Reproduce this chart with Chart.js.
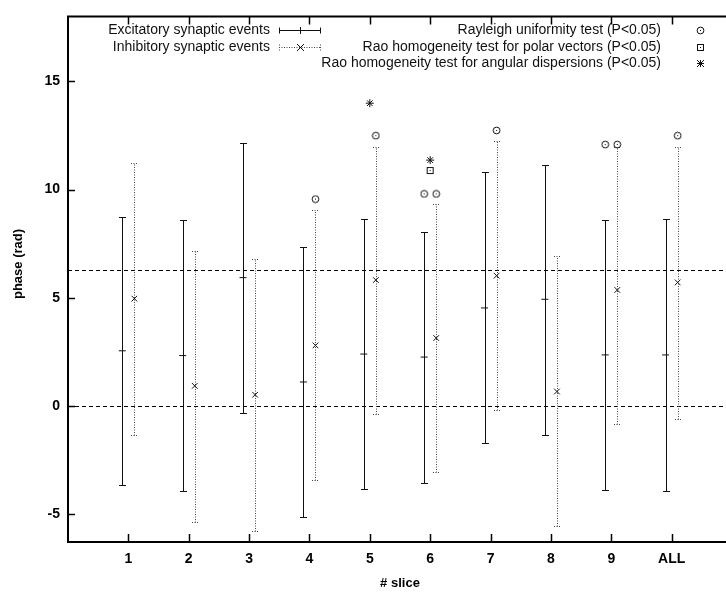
<!DOCTYPE html>
<html>
<head>
<meta charset="utf-8">
<script src="https://cdn.jsdelivr.net/npm/chart.js@4"></script>
<style>
  html, body { margin: 0; padding: 0; background: #fff; overflow: hidden; }
  canvas { display: block; }
</style>
</head>
<body>
<canvas id="chart" width="740" height="595"></canvas>
<script>
// slice categories, placed at x = 1..10
const slices = ["1", "2", "3", "4", "5", "6", "7", "8", "9", "ALL"];

// excitatory synaptic events: mean phase and bar limits (rad)
const excMean = [2.55, 2.33, 5.93, 1.11, 2.40, 2.26, 4.53, 4.93, 2.36, 2.36];
const excLow  = [-3.66, -3.91, -0.32, -5.12, -3.85, -3.55, -1.71, -1.35, -3.86, -3.91];
const excHigh = [8.75, 8.59, 12.17, 7.35, 8.62, 8.06, 10.79, 11.14, 8.59, 8.62];

// inhibitory synaptic events
const inhMean = [4.96, 0.93, 0.52, 2.80, 5.82, 3.14, 6.02, 0.67, 5.36, 5.71];
const inhLow  = [-1.33, -5.35, -5.76, -3.41, -0.39, -3.06, -0.20, -5.55, -0.83, -0.59];
const inhHigh = [11.23, 7.18, 6.80, 9.05, 11.97, 9.34, 12.23, 6.94, 11.97, 11.97];

// significance markers: slice number, side (-1 exc, 0 centre, +1 inh), phase
const rayleighSlice = [4, 5, 6, 6, 7, 9, 9, 10];
const rayleighSide  = [1, 1, -1, 1, 1, -1, 1, 1];
const rayleighY     = [9.56, 12.49, 9.80, 9.80, 12.73, 12.08, 12.08, 12.49];

const raoPolarSlice = [6];
const raoPolarY     = [10.88];

const raoAngSlice = [5, 6];
const raoAngY     = [13.99, 11.36];

const refLines = [0, 2 * Math.PI];
const yTicks = [-5, 0, 5, 10, 15];

const SHIFT = 0.1;
const FONT = '"Liberation Sans", Arial, sans-serif';

function pts(sl, side, ys) {
  return ys.map((y, i) => ({ x: sl[i] + (Array.isArray(side) ? side[i] : side) * SHIFT, y }));
}

function symbol(kind) {
  const c = document.createElement("canvas");
  c.width = 9; c.height = 9;
  const g = c.getContext("2d");
  g.strokeStyle = "#111"; g.fillStyle = "#111"; g.lineWidth = 1;
  if (kind === "circle") {
    g.beginPath(); g.arc(4.5, 4.5, 3.4, 0, Math.PI * 2); g.stroke();
  } else {
    g.strokeRect(1.5, 1.5, 6, 6);
  }
  g.fillRect(4, 4, 1, 1);
  return c;
}
const circSym = symbol("circle");
const sqSym = symbol("square");

const errorBars = {
  id: "errorBars",
  beforeDatasetsDraw(chart) {
    const { ctx, chartArea: a, scales: { x, y } } = chart;
    ctx.save();
    ctx.beginPath(); ctx.rect(a.left, a.top, a.right - a.left, a.bottom - a.top); ctx.clip();
    // reference lines at 0 and 2pi
    ctx.strokeStyle = "#000"; ctx.lineWidth = 1; ctx.setLineDash([4, 3]);
    refLines.forEach((v) => {
      const py = Math.round(y.getPixelForValue(v)) + 0.5;
      ctx.beginPath(); ctx.moveTo(a.left, py); ctx.lineTo(a.right, py); ctx.stroke();
    });
    const draw = (lo, hi, side, dash, color) => {
      ctx.strokeStyle = color; ctx.setLineDash(dash);
      slices.forEach((_, i) => {
        const px = Math.round(x.getPixelForValue(i + 1 + side * SHIFT)) + 0.5;
        const y0 = Math.round(y.getPixelForValue(lo[i])) + 0.5;
        const y1 = Math.round(y.getPixelForValue(hi[i])) + 0.5;
        ctx.beginPath();
        ctx.moveTo(px, y0); ctx.lineTo(px, y1);
        ctx.moveTo(px - 3.5, y0); ctx.lineTo(px + 3.5, y0);
        ctx.moveTo(px - 3.5, y1); ctx.lineTo(px + 3.5, y1);
        ctx.stroke();
      });
    };
    draw(excLow, excHigh, -1, [], "#111");
    draw(inhLow, inhHigh, 1, [1, 1.5], "#444");
    ctx.restore();
  },
  afterDraw(chart) {
    const { ctx, chartArea: a, scales: { x, y } } = chart;
    ctx.save();
    ctx.setLineDash([]);
    ctx.strokeStyle = "#000";
    // frame
    ctx.lineWidth = 2;
    ctx.beginPath();
    ctx.moveTo(a.right, a.top); ctx.lineTo(a.left, a.top);
    ctx.lineTo(a.left, a.bottom); ctx.lineTo(a.right, a.bottom);
    ctx.stroke();
    // inward ticks
    ctx.lineWidth = 1.5;
    ctx.beginPath();
    slices.forEach((_, i) => {
      const px = Math.round(x.getPixelForValue(i + 1)) + 0.5;
      ctx.moveTo(px, a.bottom); ctx.lineTo(px, a.bottom - 8);
      ctx.moveTo(px, a.top); ctx.lineTo(px, a.top + 8);
    });
    yTicks.forEach((v) => {
      const py = Math.round(y.getPixelForValue(v)) + 0.5;
      ctx.moveTo(a.left, py); ctx.lineTo(a.left + 7, py);
    });
    ctx.stroke();

    // axis titles
    ctx.fillStyle = "#000";
    ctx.font = `bold 13px ${FONT}`;
    ctx.textAlign = "center"; ctx.textBaseline = "middle";
    ctx.fillText("# slice", (a.left + a.right) / 2, 583);
    ctx.save();
    ctx.translate(18, 264); ctx.rotate(-Math.PI / 2);
    ctx.fillText("phase (rad)", 0, 0);
    ctx.restore();

    // legend, left block
    ctx.font = `14px ${FONT}`;
    ctx.textAlign = "right";
    ctx.fillStyle = "#111";
    ctx.fillText("Excitatory synaptic events", 270, 30);
    ctx.fillText("Inhibitory synaptic events", 270, 47);
    ctx.lineWidth = 1;
    const sample = (yy, dash, color, mark) => {
      ctx.strokeStyle = color; ctx.setLineDash(dash);
      ctx.beginPath();
      ctx.moveTo(279, yy); ctx.lineTo(321, yy);
      ctx.moveTo(279.5, yy - 3); ctx.lineTo(279.5, yy + 3);
      ctx.moveTo(320.5, yy - 3); ctx.lineTo(320.5, yy + 3);
      ctx.stroke();
      ctx.setLineDash([]); ctx.strokeStyle = "#111";
      ctx.beginPath();
      if (mark === "plus") {
        ctx.moveTo(300.5, yy - 3.5); ctx.lineTo(300.5, yy + 3.5);
      } else {
        ctx.moveTo(297, yy - 3.5); ctx.lineTo(304, yy + 3.5);
        ctx.moveTo(297, yy + 3.5); ctx.lineTo(304, yy - 3.5);
      }
      ctx.stroke();
    };
    sample(30.5, [], "#111", "plus");
    sample(47.5, [1, 1.5], "#444", "x");

    // legend, right block
    ctx.fillText("Rayleigh uniformity test (P<0.05)", 661, 30);
    ctx.fillText("Rao homogeneity test for polar vectors (P<0.05)", 661, 47);
    ctx.fillText("Rao homogeneity test for angular dispersions (P<0.05)", 661, 63);
    ctx.drawImage(circSym, 696, 26);
    ctx.drawImage(sqSym, 696, 43);
    ctx.beginPath();
    const sx = 700.5, sy = 63.5, r = 3.5;
    ctx.moveTo(sx - r, sy); ctx.lineTo(sx + r, sy);
    ctx.moveTo(sx, sy - r); ctx.lineTo(sx, sy + r);
    ctx.moveTo(sx - r, sy - r); ctx.lineTo(sx + r, sy + r);
    ctx.moveTo(sx - r, sy + r); ctx.lineTo(sx + r, sy - r);
    ctx.stroke();
    ctx.restore();
  },
};

new Chart(document.getElementById("chart"), {
  type: "scatter",
  data: {
    datasets: [
      {
        label: "Excitatory synaptic events",
        data: pts(slices.map((_, i) => i + 1), -1, excMean),
        pointStyle: "line", radius: 3.5, borderColor: "#111", borderWidth: 1,
      },
      {
        label: "Inhibitory synaptic events",
        data: pts(slices.map((_, i) => i + 1), 1, inhMean),
        pointStyle: "crossRot", radius: 4, borderColor: "#111", borderWidth: 1,
      },
      {
        label: "Rayleigh uniformity test (P<0.05)",
        data: pts(rayleighSlice, rayleighSide, rayleighY),
        pointStyle: circSym,
      },
      {
        label: "Rao homogeneity test for polar vectors (P<0.05)",
        data: pts(raoPolarSlice, 0, raoPolarY),
        pointStyle: sqSym,
      },
      {
        label: "Rao homogeneity test for angular dispersions (P<0.05)",
        data: pts(raoAngSlice, 0, raoAngY),
        pointStyle: "star", radius: 4, borderColor: "#111", borderWidth: 1,
      },
    ],
  },
  options: {
    responsive: false,
    animation: false,
    layout: { padding: { top: 8, right: 8, left: 0, bottom: 0 } },
    plugins: { legend: { display: false }, tooltip: { enabled: false } },
    scales: {
      x: {
        type: "linear", min: 0, max: 11,
        afterBuildTicks: (s) => { s.ticks = slices.map((_, i) => ({ value: i + 1 })); },
        afterFit: (s) => { s.height = 53; },
        grid: { display: false, drawTicks: false },
        border: { display: false },
        ticks: {
          padding: 9, color: "#000", font: { family: FONT, size: 14, weight: "bold" },
          callback: (v) => slices[v - 1],
        },
      },
      y: {
        min: -2 * Math.PI, max: 18,
        afterBuildTicks: (s) => { s.ticks = yTicks.map((v) => ({ value: v })); },
        afterFit: (s) => { s.width = 68; },
        grid: { display: false, drawTicks: false },
        border: { display: false },
        ticks: { padding: 8, color: "#000", font: { family: FONT, size: 14, weight: "bold" } },
      },
    },
  },
  plugins: [errorBars],
});
</script>
</body>
</html>
